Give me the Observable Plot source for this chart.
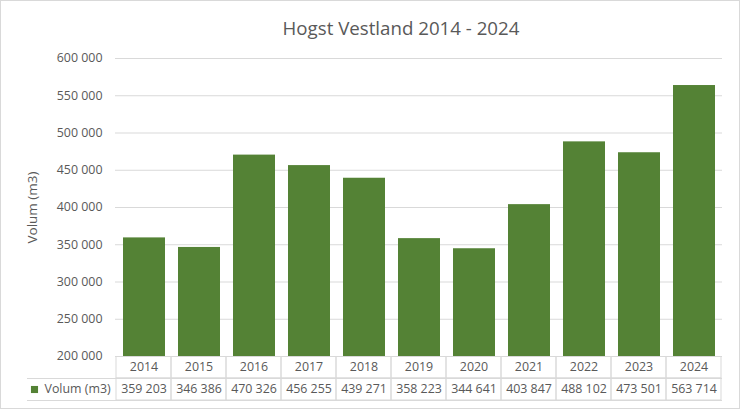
<!DOCTYPE html>
<html>
<head>
<meta charset="utf-8">
<script src="https://cdn.jsdelivr.net/npm/d3@7"></script>
<script src="https://cdn.jsdelivr.net/npm/@observablehq/plot@0.6"></script>
<style>
  html, body { margin: 0; padding: 0; background: #fff; }
  #wrap { position: relative; width: 740px; height: 409px; overflow: hidden; font-family: "Open Sans", sans-serif; }
  #wrap svg { display: block; }
  #chart { position: absolute; left: 0; top: 0; }
  #table { position: absolute; left: 0; top: 356px; }
  #border { position: absolute; left: 0; top: 0; width: 740px; height: 409px; box-sizing: border-box; border: 1px solid #d9d9d9; pointer-events: none; }
  #title { position: absolute; top: 15px; left: 401px; transform: translateX(-50%); font-size: 18.7px; color: #595959; white-space: nowrap; }
</style>
</head>
<body>
<div id="wrap">
  <div id="chart"></div>
  <div id="table"></div>
  <div id="title">Hogst Vestland 2014 - 2024</div>
  <div id="border"></div>
</div>
<script>
const years = ["2014","2015","2016","2017","2018","2019","2020","2021","2022","2023","2024"];
const volumes = [359203, 346386, 470326, 456255, 439271, 358223, 344641, 403847, 488102, 473501, 563714];
const yTicks = [200000, 250000, 300000, 350000, 400000, 450000, 500000, 550000, 600000];
const seriesName = "Volum (m3)";

const data = years.map((year, i) => ({year, v: volumes[i]}));
const locale = d3.formatLocale({decimal: ",", thousands: "\u00a0", grouping: [3], currency: ["", ""]});
const fmt = locale.format(",d");

const green = "#548235";
const textColor = "#595959";
const gridColor = "#d9d9d9";
const W = 740, ML = 115, MR = 18;
const step = (W - ML - MR) / years.length;
const fs = 12.4;

const chart = Plot.plot({
  width: W, height: 372,
  marginTop: 58, marginBottom: 16, marginLeft: ML, marginRight: MR,
  style: {fontFamily: "Open Sans, sans-serif", fontSize: fs + "px", color: textColor, background: "transparent"},
  x: {domain: years, paddingInner: 0.24, paddingOuter: 0.12, axis: null},
  y: {domain: [200000, 600000], label: null},
  marks: [
    Plot.gridY(yTicks, {stroke: gridColor, strokeOpacity: 1}),
    Plot.barY(data, {x: "year", y1: () => 200000, y2: "v", fill: green}),
    Plot.axisY(yTicks, {tickFormat: fmt, tickSize: 0, tickPadding: 13, fill: textColor, fontSize: fs, label: null}),
    Plot.text([seriesName], {frameAnchor: "left", dx: -83, rotate: -90, text: d => d, fill: textColor, fontSize: 13.5, textAnchor: "middle"})
  ]
});
document.getElementById("chart").appendChild(chart);

const table = Plot.plot({
  width: W, height: 53,
  marginTop: 0, marginBottom: 9, marginLeft: ML, marginRight: MR,
  style: {fontFamily: "Open Sans, sans-serif", fontSize: fs + "px", color: textColor, background: "transparent"},
  x: {domain: years, padding: 0, axis: null},
  y: {domain: ["year", "value"], padding: 0, axis: null},
  marks: [
    Plot.cell(years, {x: d => d, y: () => "year", fill: "none", stroke: gridColor}),
    Plot.cell(years, {x: d => d, y: () => "value", fill: "none", stroke: gridColor}),
    Plot.ruleY(["value"], {y: d => d, dy: -11, insetLeft: -88, stroke: gridColor}),
    Plot.ruleY(["value"], {y: d => d, dy: 11, insetLeft: -88, stroke: gridColor}),
    Plot.ruleX([years[0]], {x: d => d, y: () => "value", dx: -step / 2 - 88, stroke: gridColor}),
    Plot.text(years, {x: d => d, y: () => "year", text: d => d, fill: textColor, fontSize: fs}),
    Plot.text(data, {x: "year", y: () => "value", text: d => fmt(d.v), fill: textColor, fontSize: fs}),
    Plot.dot([seriesName], {frameAnchor: "left", y: () => "value", dx: -81, symbol: "square", r: 4, fill: green, stroke: "none"}),
    Plot.text([seriesName], {frameAnchor: "left", y: () => "value", dx: -71, text: d => d, textAnchor: "start", fill: textColor, fontSize: fs})
  ]
});
document.getElementById("table").appendChild(table);
</script>
</body>
</html>
